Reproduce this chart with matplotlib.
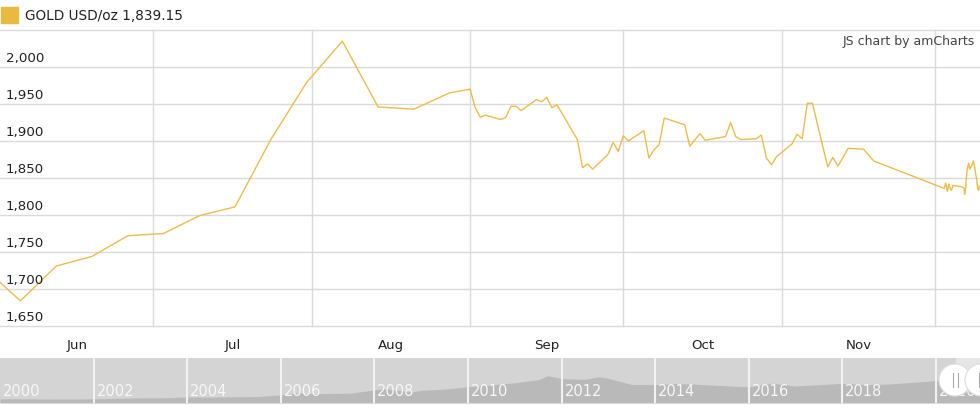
import matplotlib
matplotlib.use("Agg")
import matplotlib.pyplot as plt
from matplotlib.patches import Rectangle, Circle
import pandas as pd

# gold price, Jun-Dec 2020
dates = [
    "2020-06-01", "2020-06-05", "2020-06-12", "2020-06-19", "2020-06-26",
    "2020-07-03", "2020-07-10", "2020-07-17", "2020-07-24", "2020-07-31",
    "2020-08-07", "2020-08-14", "2020-08-21", "2020-08-28", "2020-09-01",
    "2020-09-02", "2020-09-03", "2020-09-04", "2020-09-07", "2020-09-08",
    "2020-09-09", "2020-09-10", "2020-09-11", "2020-09-14", "2020-09-15",
    "2020-09-16", "2020-09-17", "2020-09-18", "2020-09-22", "2020-09-23",
    "2020-09-24", "2020-09-25", "2020-09-28", "2020-09-29", "2020-09-30",
    "2020-10-01", "2020-10-02", "2020-10-05", "2020-10-06", "2020-10-07",
    "2020-10-08", "2020-10-09", "2020-10-13", "2020-10-14", "2020-10-16",
    "2020-10-17", "2020-10-21", "2020-10-22", "2020-10-23", "2020-10-24",
    "2020-10-27", "2020-10-28", "2020-10-29", "2020-10-30", "2020-10-31",
    "2020-11-03", "2020-11-04", "2020-11-05", "2020-11-06", "2020-11-07",
    "2020-11-10", "2020-11-11", "2020-11-12", "2020-11-14", "2020-11-17",
    "2020-11-19", "2020-12-02 19:00", "2020-12-03 02:00", "2020-12-03 10:00",
    "2020-12-03 17:00", "2020-12-04 00:00", "2020-12-04 05:00", "2020-12-04 12:00",
    "2020-12-06 07:00", "2020-12-06 17:00", "2020-12-06 19:00", "2020-12-07 00:00",
    "2020-12-07 05:00", "2020-12-07 10:00", "2020-12-07 14:00", "2020-12-07 19:00",
    "2020-12-08 05:00", "2020-12-08 12:00", "2020-12-08 17:00", "2020-12-08 22:00",
    "2020-12-09 05:00", "2020-12-09 07:00", "2020-12-09 12:00", "2020-12-09 16:00",
]
prices = [
    1709, 1684, 1731, 1744, 1772,
    1775, 1799, 1811, 1902, 1979,
    2035, 1946, 1943, 1965, 1970,
    1945, 1932, 1935, 1929, 1932,
    1947, 1947, 1941, 1956, 1953,
    1959, 1945, 1949, 1902, 1864,
    1869, 1862, 1882, 1898, 1886,
    1907, 1900, 1914, 1877, 1888,
    1895, 1931, 1922, 1893, 1910,
    1901, 1906, 1925, 1906, 1902,
    1903, 1908, 1877, 1868, 1879,
    1896, 1909, 1903, 1951, 1951,
    1865, 1878, 1866, 1890, 1889,
    1873, 1836, 1843, 1832,
    1842, 1835, 1833, 1840,
    1838, 1836, 1828, 1837,
    1857, 1866, 1870, 1862,
    1867, 1873, 1866, 1857,
    1846, 1839, 1833, 1839.15,
]

months = ["Jun", "Jul", "Aug", "Sep", "Oct", "Nov"]
y_ticks = [1650, 1700, 1750, 1800, 1850, 1900, 1950, 2000, 2050]

# long-term history shown in the scrollbar
hist_years = [2000.0, 2000.5, 2001.0, 2001.5, 2002.0, 2002.5, 2003.0, 2003.5,
              2004.0, 2004.5, 2005.0, 2005.5, 2006.0, 2006.4, 2006.5, 2007.0,
              2007.5, 2008.0, 2008.2, 2008.8, 2009.0, 2009.5, 2010.0, 2010.5,
              2011.0, 2011.5, 2011.7, 2012.0, 2012.5, 2012.8, 2013.0, 2013.5,
              2014.0, 2014.5, 2015.0, 2015.5, 2016.0, 2016.5, 2017.0, 2017.5,
              2018.0, 2018.5, 2019.0, 2019.5, 2020.0, 2020.2, 2020.6, 2020.94]
hist_prices = [285, 290, 265, 270, 280, 315, 350, 350,
               410, 395, 425, 435, 550, 700, 630, 640,
               670, 890, 980, 750, 860, 940, 1100, 1230,
               1370, 1580, 1850, 1650, 1600, 1780, 1670, 1250,
               1250, 1320, 1250, 1170, 1090, 1340, 1150, 1240,
               1330, 1250, 1290, 1400, 1520, 1600, 1970, 1840]
year_labels = list(range(2000, 2021, 2))

GOLD = "#EBBD4A"
W, H = 980, 411


def box(l, t, r, b):
    return [l / W, 1 - b / H, (r - l) / W, (b - t) / H]


fig = plt.figure(figsize=(W / 100, H / 100), dpi=100)

# main chart
ax = fig.add_axes(box(0, 30, 980, 326))
x = pd.to_datetime(dates, format="mixed")
ax.plot(x, prices, color=GOLD, lw=1.0, zorder=3)
x0 = pd.Timestamp("2020-06-01")
ax.set_xlim(x0, x0 + pd.Timedelta(days=191.8))
ax.set_ylim(1650, 2050)
for s in ax.spines.values():
    s.set_visible(False)
ax.set_yticks(y_ticks)
ax.set_yticklabels([])
month_starts = pd.date_range("2020-06-01", "2020-12-01", freq="MS")
ax.set_xticks(month_starts[1:])
ax.set_xticklabels([])
ax.tick_params(length=0)
ax.grid(color="#dadada", lw=1)
for gl in ax.get_ygridlines() + ax.get_xgridlines():
    gl.set_clip_on(False)

for v in y_ticks[:-1]:
    ax.annotate(f"{v:,}", (0, v), xycoords=("axes fraction", "data"),
                xytext=(6, 2), textcoords="offset pixels",
                fontsize=9.6, color="#222222", va="bottom", ha="left")

for i, m in enumerate(months):
    mid = month_starts[i] + (month_starts[i + 1] - month_starts[i]) / 2
    ax.annotate(m, (mid, 0), xycoords=("data", "axes fraction"),
                xytext=(0, -19), textcoords="offset pixels",
                fontsize=9.6, color="#222222", ha="center", va="center")

# scrollbar
sb = fig.add_axes(box(0, 358, 980, 403))
sb.set_facecolor("#d4d4d4")
sb.set_xlim(2000, 2020.94)
sb.set_ylim(0, 3050)
sb.axvspan(2020.42, 2020.94, color="#e6e6e6", lw=0)
sb.fill_between(hist_years, hist_prices, color="#b9b9b9", lw=0)
for yr in year_labels:
    if yr > 2000:
        sb.axvline(yr, color="#f2f2f2", lw=1.5)
    sb.text(yr + 0.06, 0.1, str(yr), transform=sb.get_xaxis_transform(),
            fontsize=10.5, color="#f7f7f7", ha="left", va="bottom")
sb.set_xticks([])
sb.set_yticks([])
for s in sb.spines.values():
    s.set_visible(False)

# overlay for legend, credit and grips
ov = fig.add_axes([0, 0, 1, 1], zorder=5)
ov.set_xlim(0, W)
ov.set_ylim(H, 0)
ov.axis("off")
ov.patch.set_alpha(0)
ov.add_patch(Rectangle((1, 7), 17, 16, color="#E9B942"))
ov.text(25, 16, "GOLD USD/oz 1,839.15", fontsize=9.8, color="#222222",
        va="center", ha="left")
ov.text(975, 42, "JS chart by amCharts", fontsize=9, color="#444444",
        va="center", ha="right")
for cx in (955, 981):
    ov.add_patch(Circle((cx, 380), 16, facecolor="white", edgecolor="#dddddd", lw=0.8))
    for dx in (-2.5, 2.5):
        ov.plot([cx + dx, cx + dx], [373, 387], color="#aaaaaa", lw=0.8)

fig.savefig("out.png", dpi=100)
